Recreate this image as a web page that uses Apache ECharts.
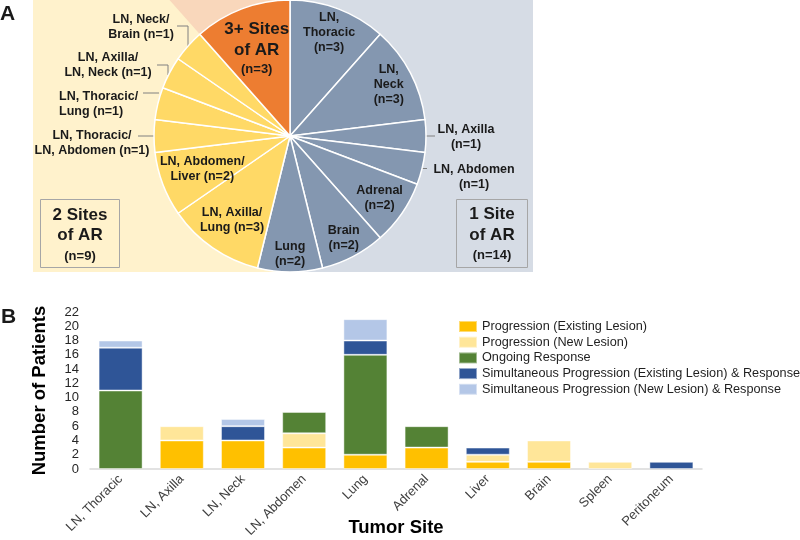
<!DOCTYPE html>
<html>
<head>
<meta charset="utf-8">
<script src="https://cdn.jsdelivr.net/npm/echarts@6/dist/echarts.min.js"></script>
<style>html,body{margin:0;padding:0;background:#fff;}#c{width:800px;height:540px;}</style>
</head>
<body>
<div id="c"></div>
<script>
// ---------- DATA ----------
// Panel A: pie slices (clockwise from 12 o'clock)
const pieSlices = ['LN, Thoracic', 'LN, Neck', 'LN, Axilla', 'LN, Abdomen', 'Adrenal', 'Brain', 'Lung',
  'LN, Axilla/Lung', 'LN, Abdomen/Liver', 'LN, Thoracic/LN, Abdomen', 'LN, Thoracic/Lung',
  'LN, Axilla/LN, Neck', 'LN, Neck/Brain', '3+ Sites of AR'];
const pieValues = [3, 3, 1, 1, 2, 2, 2, 3, 2, 1, 1, 1, 1, 3];
const pieGroups = [1, 1, 1, 1, 1, 1, 1, 2, 2, 2, 2, 2, 2, 3];
const pieLabelText = ['LN,\nThoracic\n(n={n})', 'LN,\nNeck\n(n={n})', 'LN, Axilla\n(n={n})', 'LN, Abdomen\n(n={n})',
  'Adrenal\n(n={n})', 'Brain\n(n={n})', 'Lung\n(n={n})', 'LN, Axilla/\nLung (n={n})', 'LN, Abdomen/\nLiver (n={n})',
  'LN, Thoracic/\nLN, Abdomen (n={n})', 'LN, Thoracic/\nLung (n={n})', 'LN, Axilla/\nLN, Neck (n={n})',
  'LN, Neck/\nBrain (n={n})', '{b|3+ Sites}\n{b|of AR}\n{s|(n={n})}'];

// Panel B: stacked bars
const siteCats = ['LN, Thoracic', 'LN, Axilla', 'LN, Neck', 'LN, Abdomen', 'Lung', 'Adrenal', 'Liver', 'Brain', 'Spleen', 'Peritoneum'];
const seriesNames = ['Progression (Existing Lesion)', 'Progression (New Lesion)', 'Ongoing Response',
  'Simultaneous Progression (Existing Lesion) & Response', 'Simultaneous Progression (New Lesion) & Response'];
const progExisting = [0, 4, 4, 3, 2, 3, 1, 1, 0, 0];
const progNew      = [0, 2, 0, 2, 0, 0, 1, 3, 1, 0];
const ongoing      = [11, 0, 0, 3, 14, 3, 0, 0, 0, 0];
const simExisting  = [6, 0, 2, 0, 2, 0, 1, 0, 0, 1];
const simNew       = [1, 0, 1, 0, 3, 0, 0, 0, 0, 0];
const yMin = 0, yMax = 22, yStep = 2;

// ---------- STYLE ----------
const FONT = 'Liberation Sans, Arial, sans-serif';
const groupColors = {1: '#8497b0', 2: '#ffd966', 3: '#ed7d31'};
const barColors = ['#ffc000', '#ffe699', '#548235', '#2f5597', '#b4c7e7'];
const PCX = 290, PCY = 136, PR = 136;
// label placement: k = radial fraction for inside labels, otherwise explicit placement + leader line
const labelPlace = {
  0: {k: 0.81}, 1: {k: 0.82}, 4: {k: 0.80}, 5: {k: 0.85}, 6: {k: 0.87}, 7: {k: 0.75}, 8: {k: 0.69}, 13: {k: 0.69},
  2: {x: 466, y: 137.5, line: [[426, 136], [435, 136]]},
  3: {x: 474, y: 177.5, line: [[422, 168.5], [427, 168.5]]},
  9: {x: 92, y: 143.5, line: [[154, 136], [138, 136]]},
  10: {x: 59, y: 104.5, align: 'left', line: [[159, 93], [143, 93]]},
  11: {x: 108, y: 65.5, line: [[168, 75], [168, 65], [157, 65]]},
  12: {x: 141, y: 27.5, line: [[188, 46], [188, 26], [177, 26]]}
};

const total = pieValues.reduce((a, b) => a + b, 0);
const midAngles = [];
let cum = 0;
pieValues.forEach(v => { midAngles.push((cum + v / 2) / total * 2 * Math.PI); cum += v; });
const groupSum = g => pieValues.reduce((s, v, i) => s + (pieGroups[i] === g ? v : 0), 0);
// the 3+ wedge begins at this angle (clockwise from top)
const lastStart = (total - pieValues[pieValues.length - 1]) / total * 2 * Math.PI;
const peachX = PCX + PCY * Math.tan(lastStart - 2 * Math.PI);

const pieData = pieSlices.map((name, i) => {
  const inside = labelPlace[i].k != null;
  return {
    name: name,
    value: pieValues[i],
    itemStyle: {color: groupColors[pieGroups[i]]},
    label: {position: inside ? 'inside' : 'outside'},
    labelLine: {show: !inside}
  };
});

const nz = arr => arr.map(v => v === 0 ? null : v);
const barSeries = [progExisting, progNew, ongoing, simExisting, simNew].map((arr, i) => ({
  name: seriesNames[i],
  type: 'bar',
  stack: 'all',
  barWidth: 44,
  data: nz(arr),
  itemStyle: {color: barColors[i], borderColor: 'rgba(255,255,255,0.45)', borderWidth: 1},
  emphasis: {disabled: true},
  z: 2
}));

const txt = (text, x, y, size, align, weight) => ({
  type: 'text', z: 5,
  style: {text: text, x: x, y: y, fontSize: size, fontWeight: weight || 'bold', fontFamily: FONT,
    fill: '#1a1a1a', textAlign: align || 'center', textVerticalAlign: 'middle', align: align || 'center', verticalAlign: 'middle'}
});

const chart = echarts.init(document.getElementById('c'), null, {renderer: 'canvas'});
chart.setOption({
  animation: false,
  backgroundColor: '#ffffff',
  textStyle: {fontFamily: FONT},
  graphic: {elements: [
    {type: 'rect', z: 0, shape: {x: 33, y: 0, width: PCX - 33, height: 272}, style: {fill: '#fff2cc'}},
    {type: 'rect', z: 0, shape: {x: PCX, y: 0, width: 533 - PCX, height: 272}, style: {fill: '#d6dce5'}},
    {type: 'polygon', z: 1, shape: {points: [[PCX, PCY], [PCX, 0], [peachX, 0]]}, style: {fill: '#f9d7bb'}},
    {type: 'rect', z: 3, shape: {x: 40.5, y: 199.5, width: 79, height: 68}, style: {fill: 'none', stroke: '#a6a6a6', lineWidth: 1}},
    {type: 'rect', z: 3, shape: {x: 456.5, y: 199.5, width: 71, height: 68}, style: {fill: 'none', stroke: '#a6a6a6', lineWidth: 1}},
    txt('2 Sites', 80, 215, 17), txt('of AR', 80, 235, 17), txt('(n=' + groupSum(2) + ')', 80, 256, 13),
    txt('1 Site', 492, 214, 17), txt('of AR', 492, 235, 17), txt('(n=' + groupSum(1) + ')', 492, 255, 13),
    txt('A', 0, 14, 21, 'left'), txt('B', 1, 317, 21, 'left')
  ]},
  legend: {
    orient: 'vertical', left: 458, top: 320, padding: 0,
    itemWidth: 18, itemHeight: 11, itemGap: 2.7,
    icon: 'rect',
    textStyle: {fontSize: 12.7, color: '#1f1f1f', fontFamily: FONT},
    data: seriesNames
  },
  grid: {left: 90, right: 98, top: 312, bottom: 71, containLabel: false, outerBoundsMode: 'none'},
  xAxis: {
    type: 'category', data: siteCats,
    axisLine: {lineStyle: {color: '#d9d9d9', width: 1.5}},
    axisTick: {show: false},
    axisLabel: {rotate: 45, interval: 0, fontSize: 13, color: '#404040', margin: 8, fontFamily: FONT},
    name: 'Tumor Site', nameLocation: 'middle', nameGap: 49, nameMoveOverlap: false,
    nameTextStyle: {fontSize: 18.5, fontWeight: 'bold', color: '#000', fontFamily: FONT}
  },
  yAxis: {
    type: 'value', min: yMin, max: yMax, interval: yStep,
    axisLine: {show: false}, axisTick: {show: false}, splitLine: {show: false},
    axisLabel: {fontSize: 13, color: '#262626', margin: 11, fontFamily: FONT},
    name: 'Number of Patients', nameLocation: 'middle', nameGap: 41, nameMoveOverlap: false,
    nameTextStyle: {fontSize: 18.5, fontWeight: 'bold', color: '#000', fontFamily: FONT}
  },
  series: [{
    type: 'pie',
    center: [PCX, PCY], radius: PR,
    startAngle: 90, clockwise: true,
    avoidLabelOverlap: false,
    z: 2,
    emphasis: {disabled: true, scale: false},
    itemStyle: {borderColor: '#ffffff', borderWidth: 1.5},
    label: {
      show: true, color: '#1a1a1a', fontSize: 12.5, fontWeight: 'bold', lineHeight: 15, fontFamily: FONT,
      formatter: p => pieLabelText[p.dataIndex].replace('{n}', p.value),
      rich: {
        b: {fontSize: 17, fontWeight: 'bold', lineHeight: 21, color: '#1a1a1a', fontFamily: FONT},
        s: {fontSize: 13, fontWeight: 'bold', lineHeight: 17, color: '#1a1a1a', fontFamily: FONT}
      }
    },
    labelLine: {length: 5, length2: 5, lineStyle: {color: '#808080', width: 1}},
    labelLayout: function (params) {
      const i = params.dataIndex;
      const lp = labelPlace[i];
      if (!lp) return {};
      if (lp.k != null) {
        const a = midAngles[i];
        return {x: PCX + lp.k * PR * Math.sin(a), y: PCY - lp.k * PR * Math.cos(a), align: 'center', verticalAlign: 'middle'};
      }
      return {x: lp.x, y: lp.y, align: lp.align || 'center', verticalAlign: 'middle', labelLinePoints: lp.line};
    },
    data: pieData
  }].concat(barSeries)
});
</script>
</body>
</html>
